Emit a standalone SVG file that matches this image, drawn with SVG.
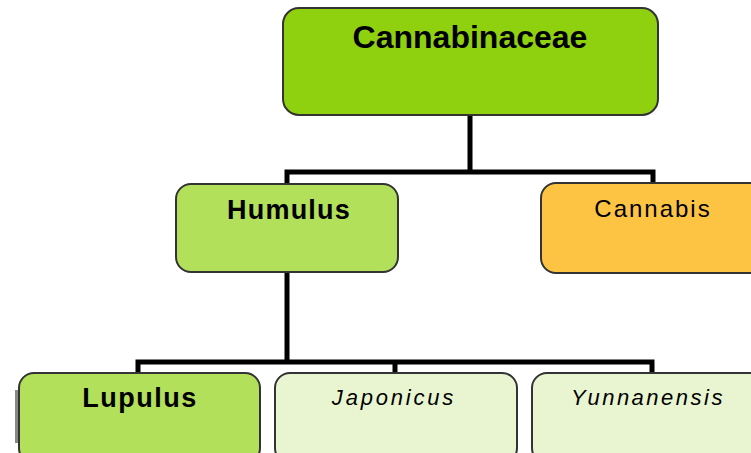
<svg xmlns="http://www.w3.org/2000/svg" width="751" height="453" viewBox="0 0 751 453">
<style>
.box{stroke:#333;stroke-width:2}
.t{font-family:"Liberation Sans",Arial,sans-serif;text-anchor:middle;fill:#000}
.b{font-weight:bold}
.i{font-style:italic}
.conn{fill:none;stroke:#000;stroke-width:5;stroke-linejoin:miter}
</style>
<rect width="751" height="453" fill="#fff"/>
<g id="connectors">
<path class="conn" d="M470 115 V172 M287 184 V172 H653 V183"/>
<path class="conn" d="M287 272 V362 M138 373 V362 H652 V373 M395 362 V373"/>
</g>
<g id="cannabinaceae">
<rect class="box" x="283" y="8" width="375" height="107" rx="16" fill="#8fd10f"/>
<text class="t b" x="470" y="48" font-size="32">Cannabinaceae</text>
</g>
<g id="humulus">
<rect class="box" x="176" y="184" width="222" height="88" rx="15" fill="#b2e05a"/>
<text class="t b" x="289" y="219" font-size="27" letter-spacing="1.2">Humulus</text>
</g>
<g id="cannabis">
<rect class="box" x="541" y="183" width="225" height="90" rx="15" fill="#fdc443"/>
<text class="t" x="653" y="217" font-size="24" letter-spacing="2">Cannabis</text>
</g>
<g id="lupulus">
<rect x="15" y="390" width="5" height="53" fill="#888"/>
<rect class="box" x="19" y="373" width="241" height="90" rx="15" fill="#b2e05a"/>
<text class="t b" x="140" y="407" font-size="27" letter-spacing="1.5">Lupulus</text>
</g>
<g id="japonicus">
<rect class="box" x="275" y="373" width="242" height="90" rx="15" fill="#e8f5d0"/>
<text class="t i" x="394" y="405" font-size="22" letter-spacing="2.8">Japonicus</text>
</g>
<g id="yunnanensis">
<rect class="box" x="532" y="373" width="242" height="90" rx="15" fill="#e8f5d0"/>
<text class="t i" x="648" y="405" font-size="22" letter-spacing="2.5">Yunnanensis</text>
</g>
</svg>
